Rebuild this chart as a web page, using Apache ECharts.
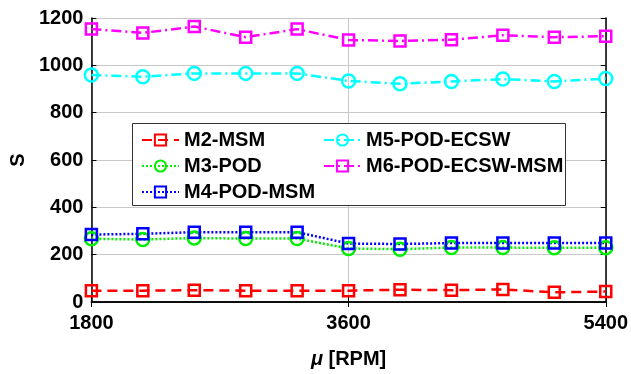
<!DOCTYPE html>
<html><head><meta charset="utf-8">
<script src="https://cdn.jsdelivr.net/npm/echarts@6/dist/echarts.min.js"></script>
<style>html,body{margin:0;padding:0;background:#fff}#c{width:631px;height:374px}</style>
</head><body><div id="c"></div>
<script>
const rpm = [1800, 2160, 2520, 2880, 3240, 3600, 3960, 4320, 4680, 5040, 5400];
const m2 = [48, 48, 50, 48, 48, 48, 52, 50, 53, 41, 44];
const m3 = [267, 264, 270, 268, 268, 226, 223, 230, 230, 229, 229];
const m4 = [285, 288, 295, 295, 295, 247, 245, 249, 249, 249, 249];
const m5 = [959, 952, 966, 966, 966, 934, 922, 932, 942, 932, 944];
const m6 = [1153, 1137, 1164, 1119, 1153, 1107, 1103, 1108, 1127, 1119, 1123];
const names = ['M2-MSM', 'M3-POD', 'M4-POD-MSM', 'M5-POD-ECSW', 'M6-POD-ECSW-MSM'];
const yTicks = [0, 200, 400, 600, 800, 1000, 1200];
const xTicks = [1800, 3600, 5400];

const FONT = 'Liberation Sans';
function mk(name, vals, color, dash, symbol, size) {
  return {
    name: name, type: 'line', xAxisIndex: 0, yAxisIndex: 0,
    data: rpm.map((x, i) => [x, vals[i]]),
    symbol: symbol, symbolSize: size, showAllSymbol: true,
    lineStyle: { color: color, width: 2.5, type: dash },
    itemStyle: { color: 'rgba(255,255,255,0)', borderColor: color, borderWidth: 2.5 },
    emphasis: { disabled: true }, z: 3
  };
}
const chart = echarts.init(document.getElementById('c'), null, { renderer: 'canvas' });
const lblStyle = { fontFamily: FONT, fontWeight: 'bold', fontSize: 20, color: '#000' };
const plain = v => String(v);
chart.setOption({
  animation: false,
  grid: { left: 88, right: 23, top: 18, bottom: 64 },
  xAxis: [{
    type: 'value', min: xTicks[0], max: xTicks[xTicks.length - 1], interval: 1800,
    name: '{i|μ} [RPM]', nameLocation: 'middle', nameGap: 47,
    nameTextStyle: { fontFamily: FONT, fontWeight: 'bold', fontSize: 20, color: '#000',
      rich: { i: { fontFamily: FONT, fontStyle: 'italic', fontWeight: 'bold', fontSize: 20, color: '#000' } } },
    axisLine: { lineStyle: { color: '#000', width: 1.5 } },
    axisTick: { inside: true, length: 5, lineStyle: { color: '#000' } },
    axisLabel: Object.assign({ margin: 11, formatter: plain }, lblStyle),
    splitLine: { show: true, lineStyle: { color: '#c8c8c8', width: 1 } }
  }, {
    type: 'value', position: 'top', min: 1800, max: 5400, interval: 1800,
    axisLine: { show: true, lineStyle: { color: '#000', width: 1.5 } },
    axisTick: { show: true, inside: true, length: 5, lineStyle: { color: '#000' } },
    axisLabel: { show: false }, splitLine: { show: false }
  }],
  yAxis: [{
    type: 'value', min: yTicks[0], max: yTicks[yTicks.length - 1], interval: 200,
    name: 'S', nameLocation: 'middle', nameGap: 60,
    nameTextStyle: { fontFamily: FONT, fontWeight: 'bold', fontSize: 20, color: '#000' },
    axisLine: { show: true, lineStyle: { color: '#000', width: 1.5 } },
    axisTick: { show: true, inside: true, length: 5, lineStyle: { color: '#000' } },
    axisLabel: Object.assign({ margin: 8, formatter: plain }, lblStyle),
    splitLine: { show: true, lineStyle: { color: '#c8c8c8', width: 1 } }
  }, {
    type: 'value', position: 'right', min: 0, max: 1200, interval: 200,
    axisLine: { show: true, lineStyle: { color: '#000', width: 1.5 } },
    axisTick: { show: true, inside: true, length: 5, lineStyle: { color: '#000' } },
    axisLabel: { show: false }, splitLine: { show: false }
  }],
  legend: [{
    data: names.slice(0, 3), orient: 'vertical', left: 136, top: 125,
    itemWidth: 37, itemHeight: 14, itemGap: 6, textStyle: lblStyle, z: 10, selectedMode: false
  }, {
    data: names.slice(3), orient: 'vertical', left: 318, top: 125,
    itemWidth: 37, itemHeight: 14, itemGap: 6, textStyle: lblStyle, z: 10, selectedMode: false
  }],
  graphic: [{
    type: 'rect', shape: { x: 132.5, y: 123.5, width: 433, height: 82 },
    style: { fill: '#fff', stroke: '#333', lineWidth: 1 }, z: 5
  }],
  series: [
    mk(names[0], m2, '#ff0000', [10, 6], 'rect', 11),
    mk(names[1], m3, '#00ee00', [2, 2], 'circle', 13),
    mk(names[2], m4, '#0000ff', [2, 2], 'rect', 11),
    mk(names[3], m5, '#00ffff', [10, 4, 2, 4], 'circle', 13),
    mk(names[4], m6, '#ff00ff', [10, 4, 2, 4], 'rect', 11)
  ]
});
</script></body></html>
